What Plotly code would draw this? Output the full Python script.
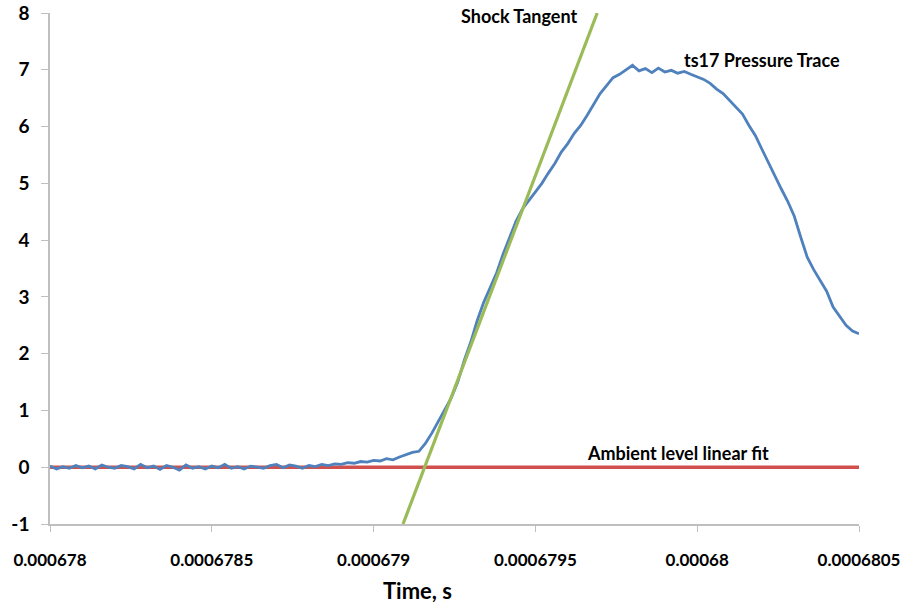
import plotly.graph_objects as go

# ---------------------------------------------------------------------------
# Data (time in microseconds, converted to seconds below)
# ---------------------------------------------------------------------------
trace_time_us = [
    678.00, 678.02, 678.04, 678.06, 678.08, 678.10, 678.12, 678.14, 678.16, 678.18,
    678.20, 678.22, 678.24, 678.26, 678.28, 678.30, 678.32, 678.34, 678.36, 678.38,
    678.40, 678.42, 678.44, 678.46, 678.48, 678.50, 678.52, 678.54, 678.56, 678.58,
    678.60, 678.62, 678.64, 678.66, 678.68, 678.70, 678.72, 678.74, 678.76, 678.78,
    678.80, 678.82, 678.84, 678.86, 678.88, 678.90, 678.92, 678.94, 678.96, 678.98,
    679.00, 679.02, 679.04, 679.06, 679.08, 679.10, 679.12, 679.14, 679.16, 679.18,
    679.20, 679.22, 679.24, 679.26, 679.28, 679.30, 679.32, 679.34, 679.36, 679.38,
    679.40, 679.42, 679.44, 679.46, 679.48, 679.50, 679.52, 679.54, 679.56, 679.58,
    679.60, 679.62, 679.64, 679.66, 679.68, 679.70, 679.72, 679.74, 679.76, 679.78,
    679.80, 679.82, 679.84, 679.86, 679.88, 679.90, 679.92, 679.94, 679.96, 679.98,
    680.00, 680.02, 680.04, 680.06, 680.08, 680.10, 680.12, 680.14, 680.16, 680.18,
    680.20, 680.22, 680.24, 680.26, 680.28, 680.30, 680.32, 680.34, 680.36, 680.38,
    680.40, 680.42, 680.44, 680.46, 680.48, 680.50,
]
trace_pressure = [
    0.02, -0.03, 0.01, -0.02, 0.03, -0.01, 0.02, -0.03, 0.04, 0.00,
    -0.02, 0.03, 0.01, -0.03, 0.05, -0.01, 0.02, -0.04, 0.03, 0.00,
    -0.05, 0.04, -0.02, 0.01, -0.03, 0.02, -0.01, 0.05, -0.02, 0.01,
    -0.03, 0.02, 0.00, -0.02, 0.03, 0.05, -0.01, 0.04, 0.02, -0.02,
    0.03, 0.01, 0.05, 0.03, 0.06, 0.05, 0.08, 0.07, 0.10, 0.09,
    0.12, 0.11, 0.15, 0.13, 0.18, 0.22, 0.26, 0.28, 0.42, 0.60,
    0.80, 1.02, 1.22, 1.50, 1.88, 2.20, 2.58, 2.90, 3.15, 3.42,
    3.75, 4.05, 4.33, 4.55, 4.70, 4.86, 5.00, 5.18, 5.35, 5.55,
    5.70, 5.88, 6.02, 6.20, 6.40, 6.58, 6.72, 6.86, 6.92, 7.00,
    7.08, 6.98, 7.02, 6.95, 7.03, 6.96, 6.99, 6.94, 6.97, 6.92,
    6.88, 6.83, 6.76, 6.66, 6.58, 6.46, 6.34, 6.22, 6.02, 5.84,
    5.60, 5.36, 5.15, 4.90, 4.68, 4.42, 4.05, 3.70, 3.48, 3.30,
    3.10, 2.82, 2.65, 2.50, 2.40, 2.35,
]

tangent_time_us = [679.091, 679.691]
tangent_pressure = [-1.0, 8.0]

ambient_time_us = [678.0, 680.5]
ambient_pressure = [0.0, 0.0]

x_tick_us = [678.0, 678.5, 679.0, 679.5, 680.0, 680.5]
x_tick_text = ["0.000678", "0.0006785", "0.000679", "0.0006795", "0.00068", "0.0006805"]


def to_s(values):
    return [v * 1e-6 for v in values]


FONT = "Lato, 'Open Sans', sans-serif"
AXIS_GRAY = "#BFBFBF"

fig = go.Figure()
fig.add_trace(go.Scatter(
    x=to_s(ambient_time_us), y=ambient_pressure, mode="lines",
    line=dict(color="#D0504D", width=3.5), name="Ambient level linear fit",
))
fig.add_trace(go.Scatter(
    x=to_s(trace_time_us), y=trace_pressure, mode="lines",
    line=dict(color="#4F81BD", width=2.8), name="ts17 Pressure Trace",
))
fig.add_trace(go.Scatter(
    x=to_s(tangent_time_us), y=tangent_pressure, mode="lines",
    line=dict(color="#9BBB59", width=3.2), name="Shock Tangent",
))

# labels on the chart
fig.add_annotation(x=679.449e-6, y=7.94, text="<b>Shock Tangent</b>", showarrow=False,
                   xanchor="center", yanchor="middle", font=dict(size=18))
fig.add_annotation(x=679.952e-6, y=7.17, text="<b>ts17 Pressure Trace</b>", showarrow=False,
                   xanchor="left", yanchor="middle", font=dict(size=18))
fig.add_annotation(x=679.942e-6, y=0.25, text="<b>Ambient level linear fit</b>", showarrow=False,
                   xanchor="center", yanchor="middle", font=dict(size=18))
fig.add_annotation(x=0.454, y=-0.131, xref="paper", yref="paper", text="<b>Time, s</b>",
                   showarrow=False, xanchor="center", yanchor="middle", font=dict(size=22))

fig.update_layout(
    width=902, height=605,
    paper_bgcolor="white", plot_bgcolor="white",
    font=dict(family=FONT, color="black", size=14),
    margin=dict(l=50, r=43, t=13, b=81),
    showlegend=False,
    xaxis=dict(
        range=[678.0e-6, 680.5e-6], automargin=False,
        tickvals=to_s(x_tick_us), ticktext=[f"<b>{t}</b>" for t in x_tick_text],
        tickfont=dict(size=17), ticks="outside", ticklen=6, tickcolor=AXIS_GRAY,
        showline=True, linecolor=AXIS_GRAY, linewidth=1.5,
        showgrid=False, zeroline=False, ticklabelstandoff=14,
    ),
    yaxis=dict(
        range=[-1, 8], automargin=False, tickmode="array", tickvals=list(range(-1, 9)),
        ticktext=[f"<b>{v}</b>" for v in range(-1, 9)],
        tickfont=dict(size=19), ticks="outside", ticklen=7, tickcolor=AXIS_GRAY,
        showline=True, linecolor=AXIS_GRAY, linewidth=1.5,
        showgrid=False, zeroline=False, ticklabelstandoff=8,
    ),
)

fig.write_html(
    "out.html",
    config={"displayModeBar": False},
    post_script="document.body.style.margin='0';document.body.style.overflow='hidden';",
)
